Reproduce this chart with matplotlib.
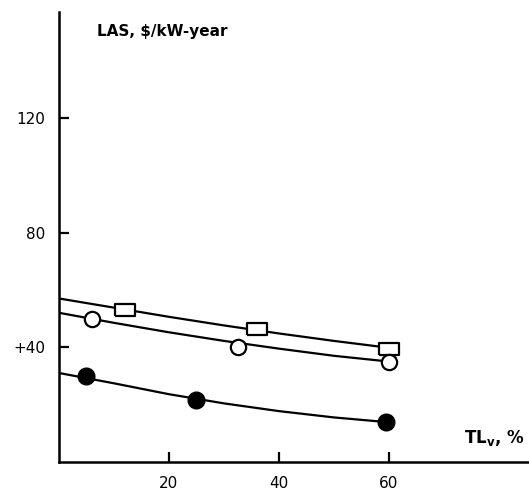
import numpy as np
import matplotlib
matplotlib.use("Agg")
from matplotlib import pyplot as plt

# measured points
sq_x = [12, 36, 60]
sq_y = [53, 46.5, 39.5]
oc_x = [6, 32.5, 60]
oc_y = [50, 40, 35]
fc_x = [5, 25, 59.5]
fc_y = [30, 21.5, 14]

# fitted curves
curve_x = [0, 10, 20, 30, 40, 50, 60]
sq_curve = [57, 53.8, 50.6, 47.6, 44.8, 42.2, 39.8]
oc_curve = [52, 48.5, 45.2, 42.2, 39.5, 37.0, 35.0]
fc_curve = [31, 27.4, 23.6, 20.4, 17.7, 15.5, 13.8]

xticks = [20, 40, 60]
yticks = [40, 80, 120]
ytick_labels = ["+40", "80", "120"]

plt.rcParams['font.family'] = ['DejaVu Sans']

fig = plt.figure(figsize=(5.29, 4.95), dpi=100)
ax = fig.add_axes([0.1115, 0.067, 0.8885, 0.909])

rect = [(-1.4, -0.85), (1.4, -0.85), (1.4, 0.85), (-1.4, 0.85), (-1.4, -0.85)]

ax.plot(curve_x, sq_curve, color='black', lw=1.6)
ax.plot(curve_x, oc_curve, color='black', lw=1.6)
ax.plot(curve_x, fc_curve, color='black', lw=1.6)

ax.plot(sq_x, sq_y, ls='none', marker=rect, ms=15, mfc='white', mec='black', mew=1.6)
ax.plot(oc_x, oc_y, ls='none', marker='o', ms=11, mfc='white', mec='black', mew=1.6)
ax.plot(fc_x, fc_y, ls='none', marker='o', ms=12, mfc='black', mec='black')

ax.set_xlim(0, 85.5)
ax.set_ylim(0, 157)
ax.spines['top'].set_visible(False)
ax.spines['right'].set_visible(False)
ax.spines['left'].set_linewidth(1.8)
ax.spines['bottom'].set_linewidth(1.8)

ax.set_xticks(xticks)
ax.set_xticklabels([str(t) for t in xticks])
ax.set_yticks(yticks)
ax.set_yticklabels(ytick_labels)
ax.tick_params(direction='in', length=7, width=1.6, labelsize=11, pad=10)

ax.text(6.9, 150, "LAS, $/kW-year", fontsize=11, fontweight='semibold', va='center', ha='left')
ax.text(84.7, 8.3, r"TL$_\mathregular{v}$, %", fontsize=12, fontweight='semibold', va='center', ha='right')

fig.savefig("out.png", dpi=100)
